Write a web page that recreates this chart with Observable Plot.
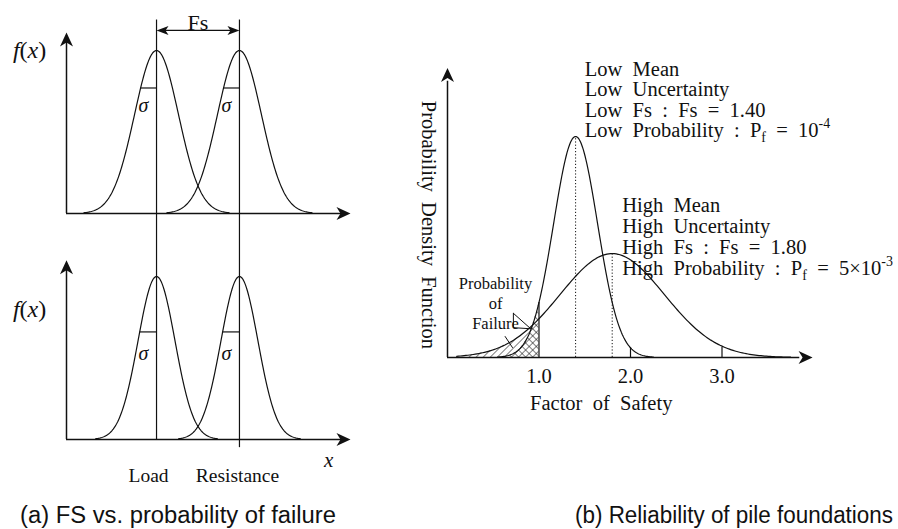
<!DOCTYPE html>
<html><head><meta charset="utf-8">
<script src="https://cdn.jsdelivr.net/npm/d3@7"></script>
<script src="https://cdn.jsdelivr.net/npm/@observablehq/plot@0.6"></script>
<style>
body{margin:0;background:#fff;}
#wrap{position:relative;width:898px;height:529px;overflow:hidden;background:#fff;}
#wrap svg{position:absolute;overflow:visible;}
.cap{position:absolute;font-family:"Liberation Sans",Arial,sans-serif;font-size:23px;color:#111;white-space:nowrap;line-height:1;transform-origin:0 0;}
</style></head><body><div id="wrap"></div>
<script>
// ---------- data: panel (a) ----------
const distNames = ["Load", "Resistance"];
const distMeans = [3.17, 6.09];          // x units
const panelSigmas = [0.775, 0.65];       // top panel, bottom panel
const panelPeaks = [1.0, 1.0];
const sigmaLevels = [0.77, 0.66];        // height of the sigma marker
const fxLabelY = [1.0, 0.80];
const sigmaLabelY = [0.66, 0.53];
const axisTipY = [1.11, 1.10];
const fsLabel = "Fs";
const xLabel = "*x*";
const fxLabel = "*f*(*x*)";
const sigmaLabel = "*σ*";

// ---------- data: panel (b) ----------
const pileNames = ["Low", "High"];
const pileMeans = [1.40, 1.80];
const pileSigmas = [0.24, 0.57];
const pilePeaks = [1.0, 0.47];
const failureFs = 1.0;
const safetyTicks = [1.0, 2.0, 3.0];
const lowLines = ["Low  Mean", "Low  Uncertainty", "Low  Fs  :  Fs  =  1.40", "Low  Probability  :  P_{f}  =  10^{-4}"];
const highLines = ["High  Mean", "High  Uncertainty", "High  Fs  :  Fs  =  1.80", "High  Probability  :  P_{f}  =  5×10^{-3}"];
const failureLines = ["Probability", "of", "Failure"];
const yTitle = "Probability Density Function";
const xTitle = "Factor of Safety";
const captions = ["(a) FS vs. probability of failure", "(b) Reliability of pile foundations"];

// ---------- helpers ----------
const INK = "#111";
const bell = (m, s, a) => x => a * Math.exp(-0.5 * ((x - m) / s) ** 2);
function curve(m, s, a, lo, hi, n = 180) {
  const f = bell(m, s, a);
  return d3.range(n + 1).map(i => { const x = lo + (hi - lo) * i / n; return {x, y: f(x)}; });
}
const nb = s => s.replace(/ /g, "\u00a0");
function arrowSym(dir, L = 14, W = 6.5, N = 4) {
  const rot = {right: 0, up: -Math.PI / 2, left: Math.PI, down: Math.PI / 2}[dir];
  const c = Math.cos(rot), s = Math.sin(rot);
  return {draw(ctx) {
    [[0, 0], [-L, W], [-L + N, 0], [-L, -W]].forEach(([px, py], i) => {
      const X = px * c - py * s, Y = px * s + py * c;
      i ? ctx.lineTo(X, Y) : ctx.moveTo(X, Y);
    });
    ctx.closePath();
  }};
}
function head(x, y, dir, L, W, N) {
  return Plot.dot([{x, y}], {x: "x", y: "y", r: 5, symbol: arrowSym(dir, L, W, N), fill: INK, stroke: "none"});
}
function richify(root) {
  d3.select(root).selectAll("text").each(function () {
    const s = this.textContent;
    if (!/[_^*]/.test(s)) return;
    const fs = parseFloat(getComputedStyle(this).fontSize) || 19;
    const segs = []; let italic = false, cur = "", i = 0;
    while (i < s.length) {
      const ch = s[i];
      if (ch === "*") { if (cur) segs.push({t: cur, italic}); cur = ""; italic = !italic; i++; }
      else if ((ch === "_" || ch === "^") && s[i + 1] === "{") {
        if (cur) segs.push({t: cur, italic}); cur = "";
        const j = s.indexOf("}", i);
        segs.push({t: s.slice(i + 2, j), italic, pos: ch === "_" ? "sub" : "sup"});
        i = j + 1;
      } else { cur += ch; i++; }
    }
    if (cur) segs.push({t: cur, italic});
    this.textContent = "";
    let shift = 0;
    for (const g of segs) {
      const want = g.pos === "sub" ? 0.22 * fs : g.pos === "sup" ? -0.45 * fs : 0;
      const t = d3.select(this).append("tspan").text(g.t);
      if (want !== shift) t.attr("dy", want - shift);
      shift = want;
      if (g.pos) t.attr("font-size", 0.68 * fs);
      if (g.italic) t.attr("font-style", "italic");
    }
  });
}
const wrap = document.getElementById("wrap");
function place(svg, left, top) { svg.style.left = left + "px"; svg.style.top = top + "px"; wrap.appendChild(svg); richify(svg); }
const baseStyle = {fontFamily: "'Liberation Serif', 'Times New Roman', serif", fontSize: "20px", color: INK, background: "transparent", overflow: "visible"};

// ---------- panel (a) ----------
function leftPanel(k, height, marginTop, marginBottom) {
  const s = panelSigmas[k], a = panelPeaks[k];
  const unit = (height - marginTop - marginBottom) / 1.2;
  const curves = distMeans.flatMap((m, i) => curve(m, s, a, m - 3.3 * s, m + 3.3 * s).map(d => ({...d, name: distNames[i]})));
  const lvl = sigmaLevels[k];
  const dx = s * Math.sqrt(-2 * Math.log(lvl / a));
  const marks = [
    Plot.ruleY([0], {x1: 0, x2: 9.7, stroke: INK, strokeWidth: 1.5}),
    Plot.ruleX([0], {y1: 0, y2: axisTipY[k] - 0.06, stroke: INK, strokeWidth: 1.5}),
    head(10, 0, "right", 14, 6.5, 4),
    head(0, axisTipY[k], "up", 14, 6.5, 4),
    Plot.line(curves, {x: "x", y: "y", z: "name", stroke: INK, strokeWidth: 1.2}),
    Plot.link(distMeans, {x1: m => m - dx, x2: m => m, y1: lvl, y2: lvl, stroke: INK, strokeWidth: 1.2}),
    Plot.text(distMeans, {x: m => m - 0.46, y: sigmaLabelY[k], text: () => sigmaLabel, fontSize: 20}),
    Plot.text([fxLabel], {x: -1.3, y: fxLabelY[k], text: d => d, fontSize: 24, letterSpacing: 1.5}),
  ];
  if (k === 0) {
    marks.push(
      Plot.ruleX(distMeans, {y1: -marginBottom / unit, y2: 1.187, stroke: INK, strokeWidth: 1.2}),
      Plot.link([0], {x1: distMeans[0] + 0.3, x2: distMeans[1] - 0.3, y1: 1.123, y2: 1.123, stroke: INK, strokeWidth: 1.2}),
      head(distMeans[0], 1.123, "left", 12, 4.5, 3),
      head(distMeans[1], 1.123, "right", 12, 4.5, 3),
      Plot.text([fsLabel], {x: (distMeans[0] + distMeans[1]) / 2, y: 1.17, text: d => d, fontSize: 22})
    );
  } else {
    marks.push(
      Plot.ruleX(distMeans, {y1: [0, -0.05], y2: (height - marginBottom) / unit, stroke: INK, strokeWidth: 1.2}),
      Plot.text(distNames, {x: [2.89, 6.02], y: -0.22, text: d => d, fontSize: 19.5}),
      Plot.text([xLabel], {x: 9.23, y: -0.13, text: d => d, fontSize: 21})
    );
  }
  return Plot.plot({
    width: 370, height, marginLeft: 66, marginRight: 20, marginTop, marginBottom,
    x: {domain: [0, 10], axis: null}, y: {domain: [0, 1.2], axis: null},
    style: baseStyle, marks
  });
}
place(leftPanel(0, 227, 17.4, 14), 0, 0);
place(leftPanel(1, 262, 16.4, 50), 0, 227);

// ---------- panel (b) ----------
{
  const [lowM, highM] = pileMeans, [lowS, highS] = pileSigmas, [lowA, highA] = pilePeaks;
  const lowC = curve(lowM, lowS, lowA, 0.55, 2.25);
  const highC = curve(highM, highS, highA, 0.1, 3.75);
  const lowFail = curve(lowM, lowS, lowA, 0.55, failureFs, 60);
  const highFail = curve(highM, highS, highA, 0.2, failureFs, 60);
  const lowAt1 = bell(lowM, lowS, lowA)(failureFs);
  const defs = () => {
    const d = d3.create("svg:defs");
    [["hatchF", 45], ["hatchB", -45]].forEach(([id, ang]) => {
      d.append("pattern").attr("id", id).attr("width", 5).attr("height", 5)
        .attr("patternUnits", "userSpaceOnUse").attr("patternTransform", `rotate(${ang})`)
        .append("line").attr("x1", 0).attr("y1", 0).attr("x2", 0).attr("y2", 5)
        .attr("stroke", INK).attr("stroke-width", 1.1);
    });
    return d.node();
  };
  const lineY = (arr, top, step) => arr.map((t, i) => ({t, y: top - i * step}));
  const FS = 20.5;
  const svg = Plot.plot({
    width: 518, height: 410, marginLeft: 67, marginRight: 85, marginTop: 58.65, marginBottom: 53,
    x: {domain: [0, 4], axis: null}, y: {domain: [0, 1.35], axis: null},
    style: baseStyle,
    marks: [
      defs,
      Plot.areaY(highFail, {x: "x", y: "y", fill: "url(#hatchF)"}),
      Plot.areaY(lowFail, {x: "x", y: "y", fill: "url(#hatchB)"}),
      Plot.ruleY([0], {x1: 0, x2: 3.85, stroke: INK, strokeWidth: 1.5}),
      Plot.ruleX([0], {y1: 0, y2: 1.25, stroke: INK, strokeWidth: 1.5}),
      head(3.99, 0, "right", 14, 6.5, 4),
      head(0, 1.31, "up", 14, 6.5, 4),
      Plot.ruleX(pileMeans, {y1: 0, y2: (d, i) => pilePeaks[i], stroke: INK, strokeWidth: 1, strokeDasharray: "1.2,2"}),
      Plot.ruleX([failureFs], {y1: 0, y2: lowAt1, stroke: INK, strokeWidth: 1.2}),
      Plot.ruleX(safetyTicks.slice(1), {y1: 0, y2: 0.045, stroke: INK, strokeWidth: 1.2}),
      Plot.line(lowC, {x: "x", y: "y", stroke: INK, strokeWidth: 1.2}),
      Plot.line(highC, {x: "x", y: "y", stroke: INK, strokeWidth: 1.2}),
      Plot.text(safetyTicks, {x: d => d, y: 0, dy: 19, text: d => d.toFixed(1), fontSize: FS}),
      Plot.text([xTitle], {x: 1.68, y: 0, dy: 46, text: d => nb(d.replace(/ /g, "  ")), fontSize: FS}),
      Plot.text([yTitle], {x: -0.21, y: 0.6, rotate: 90, text: d => nb(d.replace(/ /g, "  ")), fontSize: FS}),
      Plot.text(lineY(lowLines, 1.303, 0.092), {x: 1.5, y: "y", text: d => nb(d.t), textAnchor: "start", fontSize: FS}),
      Plot.text(lineY(highLines, 0.688, 0.095), {x: 1.91, y: "y", text: d => nb(d.t), textAnchor: "start", fontSize: FS}),
      Plot.text(lineY(failureLines, 0.335, 0.09), {x: 0.525, y: "y", text: "t", fontSize: 16.5}),
      Plot.line([{x: 0.72, y: 0.2}, {x: 0.91, y: 0.13}, {x: 0.72, y: 0.135}, {x: 0.72, y: 0.2}], {x: "x", y: "y", stroke: INK, strokeWidth: 1}),
      Plot.line([{x: 0.63, y: 0.095}, {x: 0.71, y: 0.045}], {x: "x", y: "y", stroke: INK, strokeWidth: 1})
    ]
  });
  place(svg, 380, 0);
}

// ---------- captions ----------
const capPos = [{left: 20, width: 316}, {right: 5, width: 318}];
captions.forEach((c, i) => {
  const el = document.createElement("div");
  el.className = "cap"; el.textContent = c; el.style.top = "504px";
  wrap.appendChild(el);
  const w = el.getBoundingClientRect().width;
  const sx = capPos[i].width / w;
  const left = capPos[i].left !== undefined ? capPos[i].left : 898 - capPos[i].right - capPos[i].width;
  el.style.left = left + "px";
  el.style.transform = `scaleX(${sx})`;
});
</script></body></html>
